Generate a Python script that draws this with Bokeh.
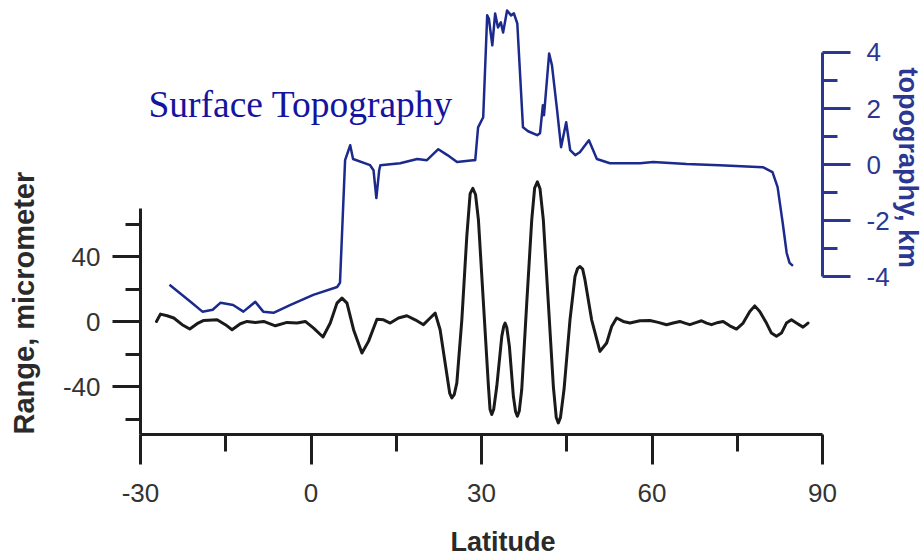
from bokeh.plotting import figure
from bokeh.models import Range1d, LinearAxis, FixedTicker, Label, Title
from bokeh.embed import file_html
from bokeh.resources import INLINE

# ---- data ----
range_lat = [-27.19, -26.49, -25.31, -24.14, -22.67, -21.33, -20.04, -18.87, -16.52, -15.06,
             -13.89, -12.43, -11.25, -9.79, -8.33, -6.27, -4.22, -2.46, -1.0, 0.46,
             2.11, 3.39, 4.57, 5.45, 6.33, 7.49, 8.96, 10.12, 11.6, 12.76,
             13.94, 15.4, 16.87, 18.33, 19.79, 20.97, 21.85, 22.72, 23.6, 24.4, 24.78, 25.2,
             25.66, 26.54, 27.41, 28.0, 28.47, 28.95, 29.46, 30.34, 31.22, 31.5, 31.81, 32.15, 32.69, 33.57,
             33.9, 34.15, 34.45, 34.91, 35.61, 36.0, 36.31, 36.65, 37.08, 37.96, 38.84, 39.35, 39.83, 40.3, 40.88, 41.76,
             42.64, 43.15, 43.52, 43.9, 44.52, 45.57, 46.45, 46.9, 47.33, 47.8, 48.21, 49.38, 50.84, 52.02,
             52.9, 53.78, 54.94, 56.12, 57.87, 59.63, 61.09, 62.56, 63.73, 64.9,
             65.78, 66.66, 67.84, 68.72, 69.6, 70.47, 71.64, 72.52, 73.69, 74.87,
             76.03, 77.21, 78.08, 78.96, 80.14, 81.01, 81.9, 82.77, 83.65, 84.53,
             85.41, 86.57, 87.45]
range_um = [0.2, 4.7, 3.7, 2.3, -1.8, -4.5, -1.2, 0.8, 1.2, -1.8,
            -4.9, -1.2, 0.2, -0.4, 0.2, -2.5, -0.4, -0.8, 0.2, -3.9,
            -9.4, -0.8, 11.5, 14.6, 11.5, -4.9, -19.3, -12.1, 1.6, 1.2,
            -0.8, 2.3, 3.7, 1.2, -1.8, 2.3, 5.3, -4.9, -25.4, -44.0, -47.0, -45.0,
            -37.7, 1.2, 52.5, 79.0, 82.3, 78.5, 62.8, 11.5, -39.8, -54.0, -57.2, -54.0, -39.8, -9.0,
            -3.0, -0.8, -3.5, -15.2, -46.0, -55.5, -58.3, -55.0, -41.8, 11.5, 62.8, 82.5, 86.3, 82.0, 62.8, 11.5,
            -39.8, -59.0, -62.4, -59.0, -41.8, 1.2, 27.9, 32.8, 34.1, 32.5, 25.8, 1.2, -18.3, -13.1,
            -2.9, 2.3, 0.2, -0.8, 0.6, 0.8, -0.4, -1.8, -0.8, 0.2,
            -0.8, -1.8, -0.4, 0.6, -0.8, -1.8, -0.4, 0.2, -2.5, -4.5,
            -0.8, 6.3, 9.8, 6.3, -0.8, -7.0, -9.0, -7.0, -0.8, 1.2,
            -0.8, -3.3, -0.8]

topo_lat = [-24.9, -21.2, -19.1, -17.3, -15.9, -13.7, -11.9, -9.8, -8.4, -6.6,
            -3.6, 0.4, 4.6, 5.1, 6.0, 6.9, 7.4, 10.4, 11.0, 11.5,
            12.0, 12.2, 15.7, 18.7, 20.4, 22.4, 24.0, 25.7, 28.5, 28.9,
            29.4, 30.3, 31.0, 31.3, 31.9, 32.4, 32.9, 33.4, 33.8, 34.5,
            35.2, 35.7, 36.3, 37.3, 38.2, 39.8, 40.3, 40.8, 41.0, 41.9,
            42.4, 43.3, 44.0, 44.9, 45.6, 46.5, 47.3, 48.9, 50.3, 52.6,
            57.9, 60.2, 66.1, 71.9, 79.5, 81.2, 82.1, 83.0, 83.7, 84.2, 84.8]
topo_km = [-4.28, -4.89, -5.24, -5.17, -4.92, -5.00, -5.24, -4.89, -5.24, -5.28,
           -5.00, -4.64, -4.36, -4.21, 0.16, 0.69, 0.20, -0.02, -0.2, -1.19,
           -0.2, -0.02, 0.05, 0.2, 0.16, 0.55, 0.34, 0.09, 0.16, 0.16,
           1.33, 1.69, 5.32, 5.2, 4.25, 5.39, 4.89, 5.07, 4.71, 5.49,
           5.32, 5.39, 5.03, 1.33, 1.19, 1.05, 1.12, 2.12, 1.76, 3.96,
           3.54, 1.94, 0.62, 1.51, 0.52, 0.34, 0.44, 0.87, 0.20, 0.05,
           0.05, 0.09, 0.02, -0.02, -0.09, -0.27, -0.80, -2.08, -3.15, -3.50, -3.61]

x_major = [-30, 0, 30, 60, 90]
x_minor = [-15, 15, 45, 75]
x_labels = ["-30", "0", "30", "60", "90"]
left_major = [-40, 0, 40]
left_minor = [-60, -20, 20, 60]
left_labels = ["-40", "0", "40"]
right_major = [-4, -2, 0, 2, 4]
right_minor = [-3, -1, 1, 3]
right_labels = ["-4", "-2", "0", "2", "4"]

title_text = "Surface Topography"
x_title = "Latitude"
left_title = "Range, micrometer"
right_title = "topography, km"

# ---- figure ----
AX = "#1e1e1e"
BLUE_AX = "#2b3792"
TXT = "#333333"
FONT = "Liberation Sans"

p = figure(width=924, height=558,
           x_range=Range1d(-30, 90), y_range=Range1d(-69.54, 195.69),
           output_backend="svg", toolbar_location=None,
           min_border_left=140, min_border_right=101,
           min_border_top=4, min_border_bottom=123)
p.extra_y_ranges = {"topo": Range1d(-9.618, 5.707)}
p.grid.visible = False
p.outline_line_color = None
p.background_fill_color = "white"
p.border_fill_color = "white"

# x axis
xa = p.xaxis[0]
xa.ticker = FixedTicker(ticks=x_major, minor_ticks=x_minor)
xa.major_label_overrides = {v: s for v, s in zip(x_major, x_labels)}

# left axis
ya = p.yaxis[0]
ya.ticker = FixedTicker(ticks=left_major, minor_ticks=left_minor)
ya.major_label_overrides = {v: s for v, s in zip(left_major, left_labels)}
ya.bounds = (-69.54, 70)

for ax in (xa, ya):
    ax.axis_line_color = AX
    ax.axis_line_width = 3
    ax.major_tick_line_color = AX
    ax.major_tick_line_width = 3
    ax.minor_tick_line_color = AX
    ax.minor_tick_line_width = 3
    ax.major_tick_in = 0
    ax.minor_tick_in = 0
    ax.major_label_text_font = FONT
    ax.major_label_text_font_size = "26px"
    ax.major_label_text_color = TXT

xa.major_tick_out = 30
xa.minor_tick_out = 17
xa.major_label_standoff = 19

ya.major_tick_out = 28
ya.minor_tick_out = 15
ya.major_label_standoff = 12

# right axis (topography)
ra = LinearAxis(y_range_name="topo",
                ticker=FixedTicker(ticks=right_major, minor_ticks=right_minor),
                bounds=(-4, 4))
ra.major_label_overrides = {v: s for v, s in zip(right_major, right_labels)}
ra.axis_line_color = BLUE_AX
ra.axis_line_width = 3
ra.major_tick_line_color = BLUE_AX
ra.major_tick_line_width = 3
ra.minor_tick_line_color = BLUE_AX
ra.minor_tick_line_width = 3
ra.major_tick_in = 0
ra.minor_tick_in = 0
ra.major_tick_out = 28
ra.minor_tick_out = 15
ra.major_label_standoff = 16
ra.major_label_text_font = FONT
ra.major_label_text_font_size = "26px"
ra.major_label_text_color = BLUE_AX
p.add_layout(ra, "right")


def side_title(text, size, color, pad=None, **kw):
    t = Title(text=text, text_font=FONT, text_font_size=size,
              text_font_style="bold", text_color=color, **kw)
    if pad is not None:
        try:
            t.padding = pad
        except Exception:
            pass
    return t


# axis titles placed as side titles so they can be offset like the reference
p.add_layout(side_title(x_title, "27px", "#2a2a2a", align="left", offset=310,
                        standoff=0, vertical_align="top",
                        pad=dict(left=0, right=0, top=22, bottom=0)), "below")
p.add_layout(side_title(left_title, "29px", "#2a2a2a", align="left", offset=0,
                        standoff=0, vertical_align="bottom",
                        pad=dict(left=0, right=0, top=0, bottom=20)), "left")
p.add_layout(side_title(right_title, "27px", BLUE_AX, align="left", offset=63,
                        standoff=0), "right")

# lines
p.line(topo_lat, topo_km, y_range_name="topo", line_color="#1b2a8c",
       line_width=2.5, line_join="round")
p.line(range_lat, range_um, line_color="#1a1a1a", line_width=3,
       line_join="round", line_cap="round")

p.add_layout(Label(x=-28.6, y=2.15, y_range_name="topo", text=title_text,
                   text_font="Liberation Serif", text_font_size="37.5px",
                   text_color="#1414a0", text_baseline="alphabetic"))

open("out.html", "w").write(file_html(p, INLINE))
